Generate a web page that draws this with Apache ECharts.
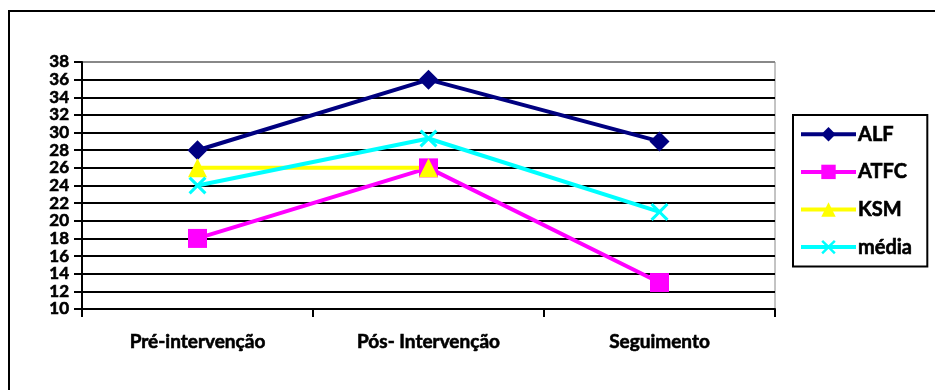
<!DOCTYPE html>
<html>
<head>
<meta charset="utf-8">
<script src="https://cdn.jsdelivr.net/npm/echarts@6/dist/echarts.min.js"></script>
<style>
html,body{margin:0;padding:0;background:#fff;}
#chart{width:935px;height:390px;}
</style>
</head>
<body>
<div id="chart"></div>
<script>
const categories = ['Pré-intervenção', 'Pós- Intervenção', 'Seguimento'];
const seriesNames = ['ALF', 'ATFC', 'KSM', 'média'];
const alf = [28, 36, 29];
const atfc = [18, 26, 13];
const ksm = [26, 26, null];
const media = [24, 29.33, 21];
const yMin = 10, yMax = 38, yStep = 2;

const FONT = 'Lato, "Open Sans", sans-serif';
const xPath = 'path://M0,1.2 L1.2,0 L5,3.8 L8.8,0 L10,1.2 L6.2,5 L10,8.8 L8.8,10 L5,6.2 L1.2,10 L0,8.8 L3.8,5 Z';

const nLines = (yMax - yMin) / yStep + 1;
const gridColors = [];
for (let i = 0; i < nLines; i++) gridColors.push(i === nLines - 1 ? '#888888' : '#000000');

function mk(name, data, color, symbol, size) {
  return {
    name: name, type: 'line', data: data,
    symbol: symbol, symbolSize: size,
    lineStyle: { color: color, width: 4 },
    itemStyle: { color: color },
    connectNulls: false,
    z: 3
  };
}

const txt = { fontFamily: FONT, fontWeight: 'bold', color: '#000', textBorderColor: '#000', textBorderWidth: 0.6 };

const chart = echarts.init(document.getElementById('chart'), null, { renderer: 'canvas' });
chart.setOption({
  animation: false,
  backgroundColor: '#ffffff',
  graphic: [
    { type: 'line', shape: { x1: 9, y1: 10, x2: 9, y2: 400 }, style: { stroke: '#000', lineWidth: 2 } },
    { type: 'line', shape: { x1: 8, y1: 11, x2: 940, y2: 11 }, style: { stroke: '#000', lineWidth: 2 } }
  ],
  grid: { left: 82, right: 160, top: 62, bottom: 81, show: true, borderColor: '#888888', borderWidth: 1, backgroundColor: 'transparent' },
  legend: {
    orient: 'vertical', left: 793, top: 115,
    data: seriesNames,
    itemWidth: 55, itemHeight: 18, itemGap: 17,
    padding: [9, 15, 9, 6],
    borderColor: '#000', borderWidth: 2,
    lineStyle: { width: 4 },
    textStyle: Object.assign({ fontSize: 20, padding: [0, 0, 0, -3] }, txt)
  },
  xAxis: {
    type: 'category', data: categories, boundaryGap: true,
    axisLine: { lineStyle: { color: '#000', width: 2 } },
    axisTick: { show: true, length: 8, lineStyle: { color: '#000', width: 2 } },
    axisLabel: Object.assign({ margin: 23, fontSize: 19 }, txt)
  },
  yAxis: {
    type: 'value', min: yMin, max: yMax, interval: yStep,
    axisLine: { show: true, lineStyle: { color: '#000', width: 2 } },
    axisTick: { show: true, length: 8, lineStyle: { color: '#000', width: 2 } },
    axisLabel: Object.assign({ margin: 13, fontSize: 17 }, txt),
    splitLine: { show: true, lineStyle: { color: gridColors, width: 2 } }
  },
  series: [
    mk('ALF', alf, '#000080', 'diamond', 20),
    mk('ATFC', atfc, '#FF00FF', 'rect', 19),
    mk('KSM', ksm, '#FFFF00', 'triangle', 19),
    mk('média', media, '#00FFFF', xPath, 18)
  ]
});
</script>
</body>
</html>
